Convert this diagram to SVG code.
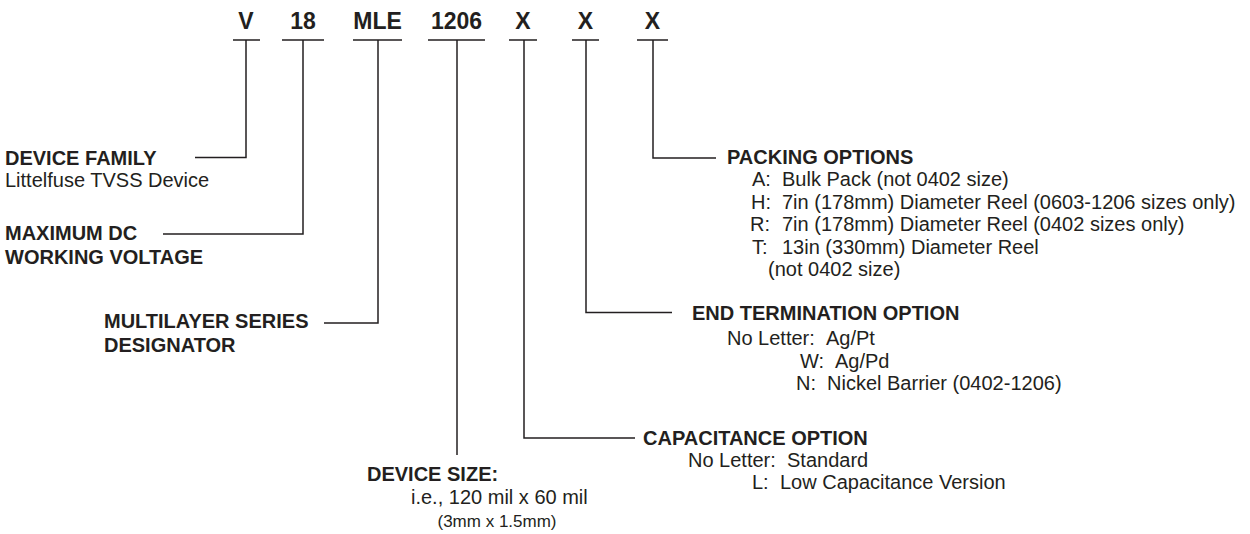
<svg xmlns="http://www.w3.org/2000/svg" width="1250" height="534" viewBox="0 0 1250 534">
<style>
text{font-family:"Liberation Sans",Arial,Helvetica,sans-serif;fill:#231f20}
.code{font-size:23px;font-weight:bold;text-anchor:middle}
.lbl{font-size:20px;font-weight:bold}
.txt{font-size:20px}
.sm{font-size:17px}
.ln{stroke:#231f20;stroke-width:1.5;fill:none}
</style>
<rect width="1250" height="534" fill="#fff"/>
<g id="codes">
<text class="code" x="246" y="29">V</text>
<text class="code" x="303" y="29">18</text>
<text class="code" x="377.5" y="29">MLE</text>
<text class="code" x="456.5" y="29">1206</text>
<text class="code" x="523" y="29">X</text>
<text class="code" x="585.5" y="29">X</text>
<text class="code" x="652.5" y="29">X</text>
</g>
<g id="connectors" class="ln">
<path d="M233 40H260M282 40H324M353 40H402M428 40H485M509 40H537M572 40H599M637 40H668"/>
<path d="M246 40V157.5H195"/>
<path d="M303 40V234H163"/>
<path d="M378 40V323H324"/>
<path d="M457 40V455"/>
<path d="M524 40V438H635"/>
<path d="M586 40V312.5H672"/>
<path d="M653 40V158H716"/>
</g>
<g id="device-family">
<text class="lbl" x="5" y="165">DEVICE FAMILY</text>
<text class="txt" x="5" y="187">Littelfuse TVSS Device</text>
</g>
<g id="max-voltage">
<text class="lbl" x="5" y="240">MAXIMUM DC</text>
<text class="lbl" x="5" y="264">WORKING VOLTAGE</text>
</g>
<g id="series">
<text class="lbl" x="104" y="328">MULTILAYER SERIES</text>
<text class="lbl" x="104" y="352">DESIGNATOR</text>
</g>
<g id="device-size">
<text class="lbl" x="367" y="481">DEVICE SIZE:</text>
<text class="txt" x="411" y="504">i.e., 120 mil x 60 mil</text>
<text class="sm" x="497" y="527" text-anchor="middle">(3mm x 1.5mm)</text>
</g>
<g id="capacitance">
<text class="lbl" x="643" y="445">CAPACITANCE OPTION</text>
<text class="txt" x="688" y="467">No Letter:</text><text class="txt" x="787" y="467">Standard</text>
<text class="txt" x="752" y="489">L:</text><text class="txt" x="780" y="489">Low Capacitance Version</text>
</g>
<g id="termination">
<text class="lbl" x="692" y="320">END TERMINATION OPTION</text>
<text class="txt" x="727" y="345">No Letter:</text><text class="txt" x="826" y="345">Ag/Pt</text>
<text class="txt" x="800" y="367.5">W:</text><text class="txt" x="835" y="367.5">Ag/Pd</text>
<text class="txt" x="796" y="390">N:</text><text class="txt" x="827" y="390">Nickel Barrier (0402-1206)</text>
</g>
<g id="packing">
<text class="lbl" x="727" y="164">PACKING OPTIONS</text>
<text class="txt" x="752" y="186">A:</text><text class="txt" x="782" y="186">Bulk Pack (not 0402 size)</text>
<text class="txt" x="751" y="208.5">H:</text><text class="txt" x="782" y="208.5">7in (178mm) Diameter Reel (0603-1206 sizes only)</text>
<text class="txt" x="750" y="231">R:</text><text class="txt" x="782" y="231">7in (178mm) Diameter Reel (0402 sizes only)</text>
<text class="txt" x="752" y="253.5">T:</text><text class="txt" x="782" y="253.5">13in (330mm) Diameter Reel</text>
<text class="txt" x="768" y="276">(not 0402 size)</text>
</g>
</svg>
